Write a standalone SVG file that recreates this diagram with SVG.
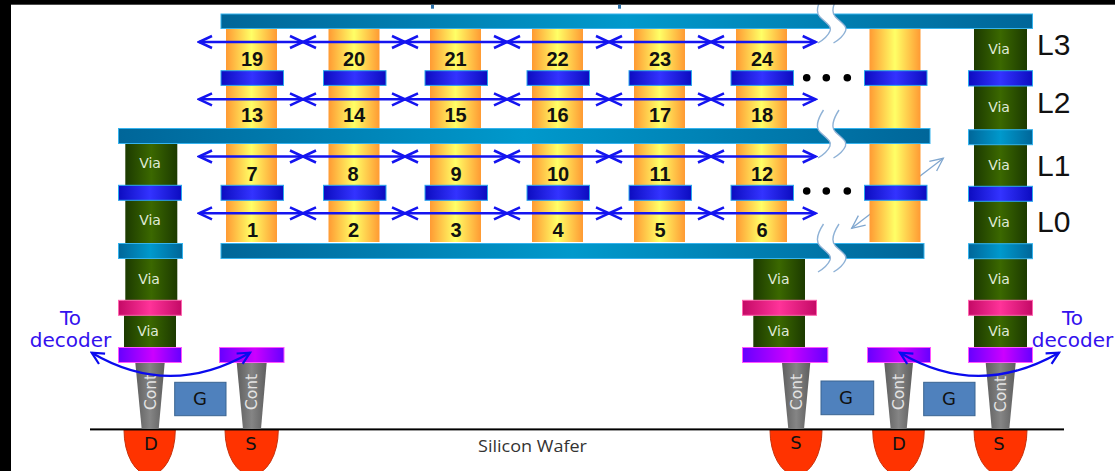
<svg xmlns="http://www.w3.org/2000/svg" width="1115" height="471" viewBox="0 0 1115 471">
<style>
.col{fill:url(#gCol)}
.via{fill:url(#gVia)}
.m3{fill:url(#gTeal);stroke:#35b3ee;stroke-width:1}
.m2{fill:url(#gBlue);stroke:#2aa8ee;stroke-width:1}
.pk{fill:url(#gPink);stroke:#ff66b0;stroke-width:1}
.pu{fill:url(#gPurple);stroke:#ff55ff;stroke-width:1}
.cont{fill:url(#gCont)}
.g{fill:#4f81bd;stroke:#3a6491;stroke-width:1}
.sd{fill:#ff3300;stroke:#c8300a;stroke-width:1}
.num{font:bold 20px "Liberation Sans",Arial,sans-serif;fill:#111;text-anchor:middle}
.vt{font:14px "DejaVu Sans",sans-serif;fill:#dfe9d6;text-anchor:middle}
.ct{font:15.5px "DejaVu Sans",sans-serif;fill:#e4e4e4;text-anchor:middle}
.lb{font:18px "DejaVu Sans",sans-serif;fill:#111;text-anchor:middle}
.lv{font:30px "Liberation Sans",Arial,sans-serif;fill:#111}
.dec{font:20px "DejaVu Sans",sans-serif;fill:#3311ee;text-anchor:middle}
.ar{stroke:#1414f0;stroke-width:2.5;fill:none;marker-start:url(#ch);marker-end:url(#ch)}
.cv{stroke:#0a0aee;stroke-width:2.2;fill:none;marker-start:url(#ch2);marker-end:url(#ch2)}
.th{stroke:#7fa6cf;stroke-width:1.3;fill:none;marker-start:url(#ch3);marker-end:url(#ch3)}
.brk{stroke:#8fb2d6;stroke-width:1.4;fill:none}
</style>
<defs>
<linearGradient id="gCol"><stop offset="0" stop-color="#ff9a33"/><stop offset=".5" stop-color="#ffff66"/><stop offset="1" stop-color="#ff9a33"/></linearGradient>
<linearGradient id="gVia"><stop offset="0" stop-color="#1c3a00"/><stop offset=".5" stop-color="#3b6800"/><stop offset="1" stop-color="#1c3a00"/></linearGradient>
<linearGradient id="gTeal"><stop offset="0" stop-color="#006699"/><stop offset=".5" stop-color="#0099cc"/><stop offset="1" stop-color="#006699"/></linearGradient>
<linearGradient id="gBlue"><stop offset="0" stop-color="#0c0cc0"/><stop offset=".5" stop-color="#3333ff"/><stop offset="1" stop-color="#0c0cc0"/></linearGradient>
<linearGradient id="gPink"><stop offset="0" stop-color="#c40a66"/><stop offset=".5" stop-color="#ff3399"/><stop offset="1" stop-color="#c40a66"/></linearGradient>
<linearGradient id="gPurple"><stop offset="0" stop-color="#6600ff"/><stop offset=".55" stop-color="#cc00ff"/><stop offset="1" stop-color="#6600ff"/></linearGradient>
<linearGradient id="gCont"><stop offset="0" stop-color="#5e5e5e"/><stop offset=".5" stop-color="#858585"/><stop offset="1" stop-color="#5e5e5e"/></linearGradient>
<marker id="ch" viewBox="-16 -8 18 16" markerWidth="18" markerHeight="16" refX="0" refY="0" orient="auto-start-reverse" markerUnits="userSpaceOnUse"><path d="M-13,-6 L0,0 L-13,6" fill="none" stroke="#1414f0" stroke-width="2.5"/></marker>
<marker id="ch2" viewBox="-15 -8 17 16" markerWidth="17" markerHeight="16" refX="0" refY="0" orient="auto-start-reverse" markerUnits="userSpaceOnUse"><path d="M-12,-6 L0,0 L-12,6" fill="none" stroke="#0a0aee" stroke-width="2.2"/></marker>
<marker id="ch3" viewBox="-15 -8 17 16" markerWidth="17" markerHeight="16" refX="0" refY="0" orient="auto-start-reverse" markerUnits="userSpaceOnUse"><path d="M-13,-6 L0,0 L-13,6" fill="none" stroke="#7fa6cf" stroke-width="1.3"/></marker>
</defs>
<rect width="1115" height="471" fill="#fff"/>

<g id="wafer">
<path class="sd" d="M124,430 A25.6,45 0 0 0 175.3,430Z"/>
<path class="sd" d="M225,430 A26.6,45 0 0 0 278.3,430Z"/>
<path class="sd" d="M770,430 A26,45 0 0 0 822,430Z"/>
<path class="sd" d="M872.7,430 A25.8,45 0 0 0 924.3,430Z"/>
<path class="sd" d="M974,430 A26.5,45 0 0 0 1027,430Z"/>
<rect x="90" y="428.4" width="974" height="2" fill="#000"/>
<text x="532.500" y="451.500" font-family="'Open Sans','DejaVu Sans',sans-serif" font-size="15.500" fill="#333" text-anchor="middle" textLength="109" lengthAdjust="spacingAndGlyphs">Silicon Wafer</text>
<text class="lb" x="151" y="450">D</text>
<text class="lb" x="251" y="450">S</text>
<text class="lb" x="796" y="449">S</text>
<text class="lb" x="899" y="450">D</text>
<text class="lb" x="999" y="450">S</text>
</g>

<g id="thin-arrow"><line class="th" x1="851.7" y1="228.3" x2="943.3" y2="158.3"/></g>

<g id="cells">
<rect class="col" x="226" y="28" width="51" height="214"/>
<rect class="col" x="328.500" y="28" width="51" height="214"/>
<rect class="col" x="430" y="28" width="51" height="214"/>
<rect class="col" x="532" y="28" width="51" height="214"/>
<rect class="col" x="634" y="28" width="51" height="214"/>
<rect class="col" x="736" y="28" width="51" height="214"/>
<rect class="col" x="869.500" y="28" width="51" height="214"/>
</g>

<g id="via-left">
<rect class="via" x="125.300" y="143" width="52" height="158"/>
<rect class="via" x="124" y="300" width="52" height="48"/>
</g>
<g id="via-mid"><rect class="via" x="753.300" y="258" width="51.700" height="90"/></g>
<g id="via-right"><rect class="via" x="974" y="28" width="53" height="320"/></g>

<g id="contacts">
<path class="cont" d="M135.300,362.700H164.700L158.700,429H141.700Z"/>
<path class="cont" d="M236.700,362.700H266.700L261,429H243Z"/>
<path class="cont" d="M782,362.700H810.300L804,429H788.300Z"/>
<path class="cont" d="M884.300,362.700H913L906.700,429H890.700Z"/>
<path class="cont" d="M985.700,362.700H1015.700L1009.300,429H991.700Z"/>
<text class="ct" transform="translate(156,392) rotate(-90)">Cont</text>
<text class="ct" transform="translate(257,392) rotate(-90)">Cont</text>
<text class="ct" transform="translate(801.500,392) rotate(-90)">Cont</text>
<text class="ct" transform="translate(903.500,392) rotate(-90)">Cont</text>
<text class="ct" transform="translate(1005.500,394) rotate(-90)">Cont</text>
</g>

<g id="gates">
<rect class="g" x="174.700" y="382.300" width="51.300" height="33.400"/><text class="lb" x="200" y="404.500">G</text>
<rect class="g" x="821" y="381" width="52.700" height="33.700"/><text class="lb" x="846" y="403.500">G</text>
<rect class="g" x="923.700" y="382.300" width="51.300" height="33.400"/><text class="lb" x="949" y="404.500">G</text>
</g>

<g id="metal-bars">
<rect class="m3" x="221" y="14" width="811.500" height="14.500"/>
<rect class="m3" x="118.500" y="128.500" width="811.500" height="15"/>
<rect class="m3" x="221" y="243.500" width="703" height="15"/>
<rect class="m3" x="118.500" y="243.500" width="64" height="15"/>
<rect class="m3" x="968.500" y="129.700" width="64" height="15"/>
<rect class="m3" x="968.500" y="243.700" width="64" height="15"/>
<rect class="m2" x="221" y="70.700" width="62.500" height="14.700"/>
<rect class="m2" x="323.500" y="70.700" width="62.500" height="14.700"/>
<rect class="m2" x="425" y="70.700" width="62.500" height="14.700"/>
<rect class="m2" x="527" y="70.700" width="62.500" height="14.700"/>
<rect class="m2" x="629" y="70.700" width="62.500" height="14.700"/>
<rect class="m2" x="731" y="70.700" width="62.500" height="14.700"/>
<rect class="m2" x="864.500" y="70.700" width="62.500" height="14.700"/>
<rect class="m2" x="968.500" y="70.700" width="64" height="15.300"/>
<rect class="m2" x="221" y="185.300" width="62.500" height="15"/>
<rect class="m2" x="323.500" y="185.300" width="62.500" height="15"/>
<rect class="m2" x="425" y="185.300" width="62.500" height="15"/>
<rect class="m2" x="527" y="185.300" width="62.500" height="15"/>
<rect class="m2" x="629" y="185.300" width="62.500" height="15"/>
<rect class="m2" x="731" y="185.300" width="62.500" height="15"/>
<rect class="m2" x="864.500" y="185.300" width="62.500" height="15"/>
<rect class="m2" x="118.500" y="185.300" width="63" height="15"/>
<rect class="m2" x="968.500" y="186.300" width="64" height="15"/>
<rect class="pk" x="118.500" y="300.300" width="63" height="15"/>
<rect class="pk" x="742.500" y="300.300" width="74" height="15"/>
<rect class="pk" x="968.500" y="300.300" width="64" height="15"/>
<rect class="pu" x="118.500" y="347.500" width="63" height="15"/>
<rect class="pu" x="219.500" y="347.500" width="64.500" height="15"/>
<rect class="pu" x="742.500" y="347.500" width="85.300" height="15"/>
<rect class="pu" x="867.500" y="347.500" width="63" height="15"/>
<rect class="pu" x="968.500" y="347.500" width="64" height="15"/>
</g>

<g id="via-labels">
<text class="vt" x="150" y="168">Via</text><text class="vt" x="150" y="225">Via</text><text class="vt" x="149" y="284">Via</text><text class="vt" x="148" y="336">Via</text>
<text class="vt" x="778.700" y="284">Via</text><text class="vt" x="778.700" y="336">Via</text>
<text class="vt" x="999" y="54">Via</text><text class="vt" x="999" y="112">Via</text><text class="vt" x="999" y="170">Via</text><text class="vt" x="999" y="227">Via</text><text class="vt" x="999" y="284">Via</text><text class="vt" x="999" y="336">Via</text>
</g>

<g id="cell-numbers">
<text class="num" x="252" y="65.700">19</text><text class="num" x="354" y="65.700">20</text><text class="num" x="455.500" y="65.700">21</text><text class="num" x="557.500" y="65.700">22</text><text class="num" x="660" y="65.700">23</text><text class="num" x="762" y="65.700">24</text>
<text class="num" x="252" y="122.300">13</text><text class="num" x="354" y="122.300">14</text><text class="num" x="455.500" y="122.300">15</text><text class="num" x="557.500" y="122.300">16</text><text class="num" x="660" y="122.300">17</text><text class="num" x="762" y="122.300">18</text>
<text class="num" x="252" y="180.700">7</text><text class="num" x="353" y="180.700">8</text><text class="num" x="456" y="180.700">9</text><text class="num" x="558" y="180.700">10</text><text class="num" x="660" y="180.700">11</text><text class="num" x="762" y="180.700">12</text>
<text class="num" x="252.500" y="237.300">1</text><text class="num" x="353.500" y="237.300">2</text><text class="num" x="456" y="237.300">3</text><text class="num" x="558" y="237.300">4</text><text class="num" x="660" y="237.300">5</text><text class="num" x="762" y="237.300">6</text>
</g>

<g id="connectors">
<line class="ar" x1="199" y1="42" x2="303" y2="42"/><line class="ar" x1="303" y1="42" x2="405" y2="42"/><line class="ar" x1="405" y1="42" x2="507" y2="42"/><line class="ar" x1="507" y1="42" x2="609" y2="42"/><line class="ar" x1="609" y1="42" x2="711" y2="42"/><line class="ar" x1="711" y1="42" x2="815.700" y2="42"/>
<line class="ar" x1="199" y1="99.300" x2="303" y2="99.300"/><line class="ar" x1="303" y1="99.300" x2="405" y2="99.300"/><line class="ar" x1="405" y1="99.300" x2="507" y2="99.300"/><line class="ar" x1="507" y1="99.300" x2="609" y2="99.300"/><line class="ar" x1="609" y1="99.300" x2="711" y2="99.300"/><line class="ar" x1="711" y1="99.300" x2="815.700" y2="99.300"/>
<line class="ar" x1="199" y1="156.500" x2="303" y2="156.500"/><line class="ar" x1="303" y1="156.500" x2="405" y2="156.500"/><line class="ar" x1="405" y1="156.500" x2="507" y2="156.500"/><line class="ar" x1="507" y1="156.500" x2="609" y2="156.500"/><line class="ar" x1="609" y1="156.500" x2="711" y2="156.500"/><line class="ar" x1="711" y1="156.500" x2="815.700" y2="156.500"/>
<line class="ar" x1="199" y1="213.300" x2="303" y2="213.300"/><line class="ar" x1="303" y1="213.300" x2="405" y2="213.300"/><line class="ar" x1="405" y1="213.300" x2="507" y2="213.300"/><line class="ar" x1="507" y1="213.300" x2="609" y2="213.300"/><line class="ar" x1="609" y1="213.300" x2="711" y2="213.300"/><line class="ar" x1="711" y1="213.300" x2="815.700" y2="213.300"/>
<path class="cv" d="M91.700,352.700 Q170,399 250,352.700"/>
<path class="cv" d="M900,352.700 Q978,399 1059,352.700"/>
</g>

<g id="breaks">
<path d="M823.500,-5 C817,5 815,12 820,17 C826,23 832,26 830,31 C828,36 823,40 818,43 L833.500,43 C838.500,40 843.500,36 845.500,31 C847.500,26 841.500,23 835.500,17 C830.500,12 832.500,5 839,-5Z" fill="#fff"/>
<path class="brk" d="M823.500,-5 C817,5 815,12 820,17 C826,23 832,26 830,31 C828,36 823,40 818,43"/>
<path class="brk" d="M839,-5 C832.500,5 830.500,12 835.500,17 C841.500,23 847.500,26 845.500,31 C843.500,36 838.500,40 833.500,43"/>
<path d="M823.500,110 C817,120 815,127 820,132 C826,138 832,141 830,146 C828,151 823,155 818,158 L833.500,158 C838.500,155 843.500,151 845.500,146 C847.500,141 841.500,138 835.500,132 C830.500,127 832.500,120 839,110Z" fill="#fff"/>
<path class="brk" d="M823.500,110 C817,120 815,127 820,132 C826,138 832,141 830,146 C828,151 823,155 818,158"/>
<path class="brk" d="M839,110 C832.500,120 830.500,127 835.500,132 C841.500,138 847.500,141 845.500,146 C843.500,151 838.500,155 833.500,158"/>
<path d="M823.500,224 C817,234 815,241 820,246 C826,252 832,255 830,260 C828,265 823,269 818,272 L833.500,272 C838.500,269 843.500,265 845.500,260 C847.500,255 841.500,252 835.500,246 C830.500,241 832.500,234 839,224Z" fill="#fff"/>
<path class="brk" d="M823.500,224 C817,234 815,241 820,246 C826,252 832,255 830,260 C828,265 823,269 818,272"/>
<path class="brk" d="M839,224 C832.500,234 830.500,241 835.500,246 C841.500,252 847.500,255 845.500,260 C843.500,265 838.500,269 833.500,272"/>
</g>

<g id="dots" fill="#000">
<circle cx="806.700" cy="77.700" r="3.800"/><circle cx="826.300" cy="77.700" r="3.800"/><circle cx="847.300" cy="77.700" r="3.800"/>
<circle cx="806.700" cy="191" r="3.800"/><circle cx="826.300" cy="191" r="3.800"/><circle cx="847.300" cy="191" r="3.800"/>
</g>

<g id="level-labels">
<text class="lv" x="1037" y="55">L3</text>
<text class="lv" x="1037" y="113">L2</text>
<text class="lv" x="1037" y="175.500">L1</text>
<text class="lv" x="1037" y="231.500">L0</text>
</g>

<g id="decoder-labels">
<text class="dec" x="70.500" y="325">To</text><text class="dec" x="70.500" y="347">decoder</text>
<text class="dec" x="1072.500" y="325">To</text><text class="dec" x="1072.500" y="347">decoder</text>
</g>

<g id="frame" fill="#000">
<rect width="1115" height="4.700"/>
<rect width="11" height="471"/>
<rect x="431" y="4.700" width="3" height="4" fill="#2a6fa8"/>
<rect x="618" y="4.700" width="3" height="4" fill="#2a6fa8"/>
</g>
</svg>
